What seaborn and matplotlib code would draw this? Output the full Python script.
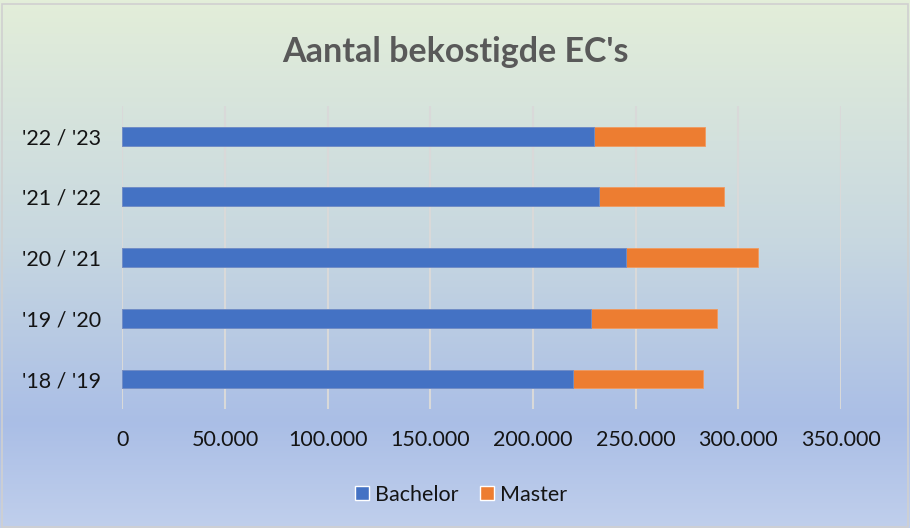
import numpy as np
import pandas as pd
import matplotlib
matplotlib.use("Agg")
import matplotlib.pyplot as plt
import seaborn as sns
from matplotlib.ticker import FuncFormatter
from matplotlib.patches import Rectangle, Patch

years = ["'22 / '23", "'21 / '22", "'20 / '21", "'19 / '20", "'18 / '19"]
bachelor = [229600, 232200, 245200, 228300, 219400]
master = [54200, 60600, 64400, 61100, 63200]
ticks = [0, 50000, 100000, 150000, 200000, 250000, 300000, 350000]
title = "Aantal bekostigde EC's"

sns.set_theme(style="white")
plt.rcParams['font.family'] = ['Lato', 'DejaVu Sans']

df = pd.DataFrame({"jaar": years, "Bachelor": bachelor, "Master": master})
df["Totaal"] = df["Bachelor"] + df["Master"]

fig = plt.figure(figsize=(9.1, 5.28), dpi=100)

# gradient background
bg = fig.add_axes([0, 0, 1, 1], zorder=-10)
stops = [0.0, 0.45, 0.8, 1.0]
scols = np.array([[227, 238, 217], [200, 216, 224], [170, 190, 230], [192, 207, 236]]) / 255
t = np.linspace(0, 1, 512)
cols = np.stack([np.interp(t, stops, scols[:, k]) for k in range(3)], axis=1)
img = cols[:, None, :].repeat(2, axis=1)
bg.imshow(img, aspect='auto', extent=[0, 1, 0, 1], origin='upper')
bg.add_patch(Rectangle((0.002, 0.002), 0.996, 0.99, fill=False, edgecolor='#d0d0d0', lw=1.2, transform=bg.transAxes))
bg.set_axis_off()

ax = fig.add_axes([0.1344, 0.2246, 0.7898, 0.575])
ax.set_facecolor('none')

sns.barplot(data=df, x="Totaal", y="jaar", orient='h', color='#ed7d31', width=0.31,
            ax=ax, saturation=1, edgecolor='#f09a60', linewidth=0.6, zorder=3)
sns.barplot(data=df, x="Bachelor", y="jaar", orient='h', color='#4472c4', width=0.31,
            ax=ax, saturation=1, edgecolor='#6a8fd0', linewidth=0.6, zorder=4)

ax.set_xlim(0, 350000)
ax.set_ylim(4.5, -0.5)
ax.set_xticks(ticks)
ax.xaxis.set_major_formatter(FuncFormatter(lambda v, p: "0" if v == 0 else f"{int(v):,}".replace(",", ".")))
ax.grid(axis='x', color='#d9d9d9', lw=1.5, zorder=0)
ax.set_axisbelow(True)
for s in ax.spines.values():
    s.set_visible(False)
ax.set_xlabel("")
ax.set_ylabel("")
ax.tick_params(axis='x', length=0, pad=15, labelsize=15.5, labelcolor='#141414')
ax.tick_params(axis='y', length=0, pad=15, labelsize=15.5, labelcolor='#141414')

fig.text(0.5, 0.902, title, ha='center', va='center', fontsize=24.5, fontweight='bold', color='#595959')

handles = [Patch(facecolor='#4472c4', label='Bachelor'), Patch(facecolor='#ed7d31', label='Master')]
fig.legend(handles=handles, loc='center', bbox_to_anchor=(0.507, 0.063), ncol=2, frameon=False,
           fontsize=15.5, handlelength=0.62, handleheight=0.62, handletextpad=0.3, columnspacing=1.0,
           labelcolor='#141414')

fig.savefig("out.png", dpi=100)
